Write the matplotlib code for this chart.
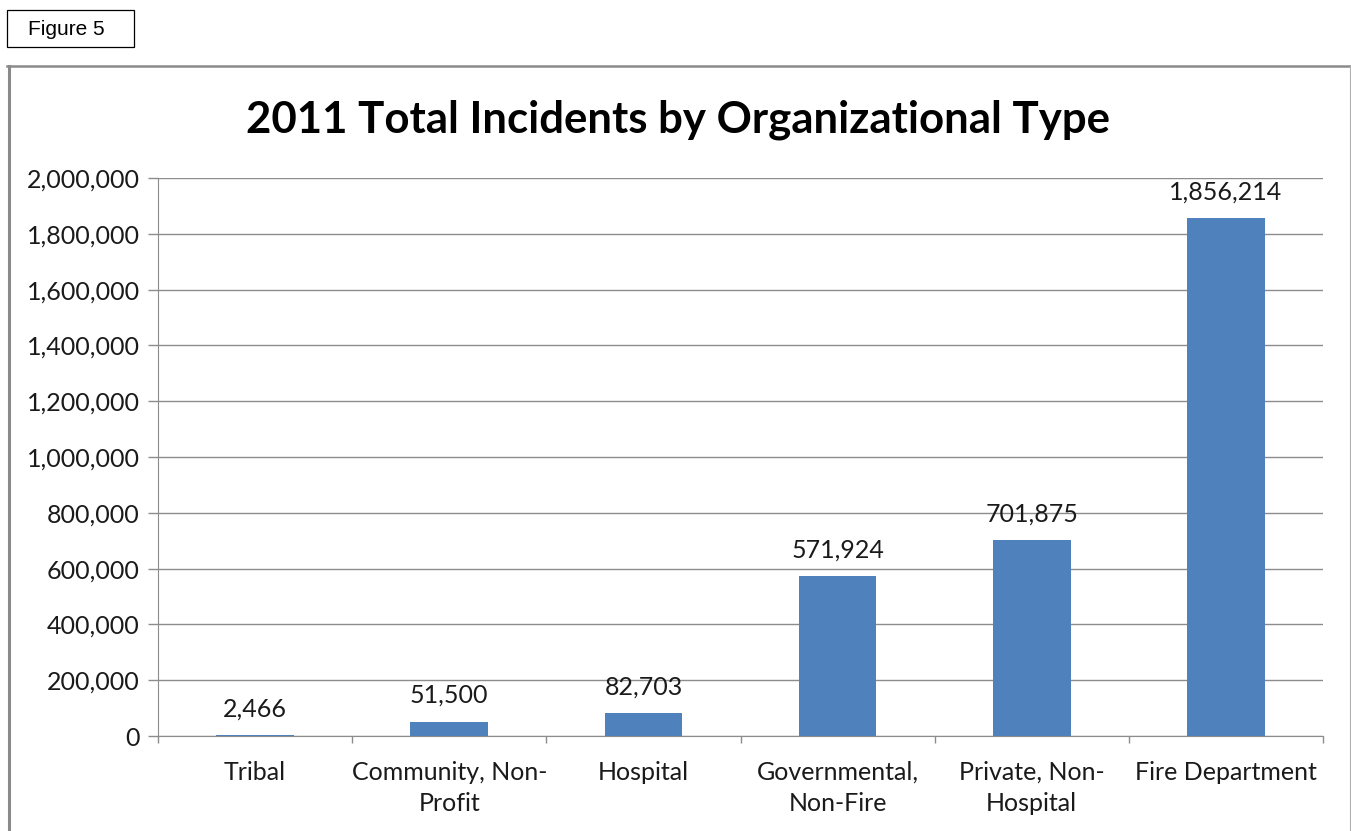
import matplotlib.pyplot as plt
from matplotlib.patches import Rectangle
from matplotlib.lines import Line2D

# --- Data ---
org_types = ["Tribal", "Community, Non-\nProfit", "Hospital",
             "Governmental,\nNon-Fire", "Private, Non-\nHospital", "Fire Department"]
incidents = [2466, 51500, 82703, 571924, 701875, 1856214]
y_ticks = [0, 200000, 400000, 600000, 800000, 1000000, 1200000,
           1400000, 1600000, 1800000, 2000000]

W, H = 1351, 831
plt.rcParams['font.family'] = ['Lato', 'DejaVu Sans']

fig = plt.figure(figsize=(W / 100, H / 100), dpi=100)

# --- Axes placed in pixel terms ---
x0, x1, ytop, ybot = 158, 1323, 178, 736
ax = fig.add_axes([x0 / W, (H - ybot) / H, (x1 - x0) / W, (ybot - ytop) / H])

pos = list(range(len(org_types)))
ax.bar(pos, incidents, width=0.4, color="#4F81BD", zorder=3)
for p, v in zip(pos, incidents):
    ax.annotate(f"{v:,}", (p, v), xytext=(0, 10.5), textcoords="offset points",
                ha="center", va="bottom", fontsize=18, color="#1a1a1a")

ax.set_xlim(-0.5, len(org_types) - 0.5)
ax.set_ylim(0, 2000000)
ax.set_yticks(y_ticks)
ax.set_yticklabels([f"{t:,}" for t in y_ticks], fontsize=18, color="#1a1a1a")
ax.set_xticks(pos)
ax.set_xticklabels(org_types, fontsize=18, color="#1a1a1a", linespacing=1.4)
ax.set_xticks([p - 0.5 for p in pos] + [len(org_types) - 0.5], minor=True)
ax.tick_params(axis="x", which="major", length=0, pad=18)
ax.tick_params(axis="x", which="minor", length=5, color="#8c8c8c", width=1)
ax.tick_params(axis="y", length=7, color="#8c8c8c", width=1, pad=6)
ax.grid(axis="y", color="#8c8c8c", linewidth=1, zorder=0)

for side in ["top", "right"]:
    ax.spines[side].set_visible(False)
ax.spines["left"].set_color("#8c8c8c")
ax.spines["bottom"].set_color("#8c8c8c")

# --- Title ---
fig.text(678 / W, 1 - 120 / H, "2011 Total Incidents by Organizational Type",
         ha="center", va="center", fontsize=31.5, fontweight="bold", color="black")

# --- Chart frame ---
fig.add_artist(Line2D([7 / W, 1350 / W], [1 - 66 / H, 1 - 66 / H],
                      transform=fig.transFigure, color="#8a8a8a", linewidth=1.8))
fig.add_artist(Line2D([8.5 / W, 8.5 / W], [0, 1 - 66 / H],
                      transform=fig.transFigure, color="#8a8a8a", linewidth=2.2))
fig.add_artist(Line2D([1349.5 / W, 1349.5 / W], [0, 1 - 66 / H],
                      transform=fig.transFigure, color="#b0b0b0", linewidth=0.8))

# --- "Figure 5" box ---
fig.add_artist(Rectangle((7 / W, 1 - 47 / H), 127 / W, 37 / H,
                         transform=fig.transFigure, fill=False,
                         edgecolor="black", linewidth=0.9))
fig.text(66 / W, 1 - 29.5 / H, "Figure 5", ha="center", va="center",
         fontsize=15, family="Liberation Sans", color="black")

fig.savefig("out.png", dpi=100)
